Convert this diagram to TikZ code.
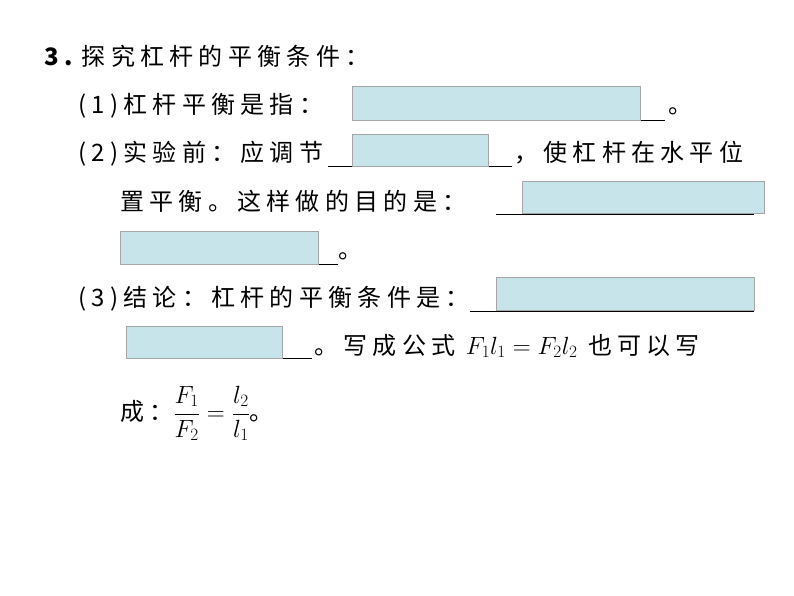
\documentclass[tikz,border=0pt]{standalone}
\usepackage{fontspec}
\setmainfont{Liberation Serif}
\newfontfamily\cjk[LetterSpace=22]{Noto Sans CJK SC}
\definecolor{boxblue}{HTML}{C6E4EA}
\tikzset{
 txt/.style={anchor=base west,inner sep=0pt,font=\cjk\fontsize{24}{28}\selectfont},
 blank/.style={draw=gray!70,fill=boxblue,line width=0.6pt},
 uline/.style={line width=0.6pt}
}
\begin{document}
\begin{tikzpicture}[x=1pt,y=-1pt]
\useasboundingbox[fill=white] (0,0) rectangle (794,596);
\node[txt] (t0) at (44,66) {\textbf{\fontsize{24}{28}\selectfont 3.}\,探究杠杆的平衡条件：};
\node[txt] (t1) at (78,114) {(1)杠杆平衡是指：};
\node[txt] (t1b) at (668,114) {。};
\node[txt] (t2) at (78,162) {(2)实验前：应调节};
\node[txt] (t2b) at (514,162) {，使杠杆在水平位};
\node[txt] (t3) at (120,210) {置平衡。这样做的目的是：};
\node[txt] (t4) at (338,258) {。};
\node[txt] (t5) at (78,306) {(3)结论：杠杆的平衡条件是：};
\node[txt] (t6) at (314,354) {。写成公式 $F_1l_1=F_2l_2$ 也可以写};
\node[txt] (t7) at (120,420) {成：$\displaystyle\frac{F_1}{F_2}=\frac{l_2}{l_1}$。};
% underlines
\draw[uline] (352,120) -- (665,120);
\draw[uline] (328,166) -- (512,166);
\draw[uline] (496,214) -- (754,214);
\draw[uline] (120,264) -- (338,264);
\draw[uline] (470,311) -- (754,311);
\draw[uline] (126,358) -- (312,358);
% blanks
\draw[blank] (352,86) rectangle (640,120);
\draw[blank] (352,134) rectangle (488,166);
\draw[blank] (522,181) rectangle (764,213);
\draw[blank] (120,231) rectangle (318,264);
\draw[blank] (496,277) rectangle (754,310);
\draw[blank] (126,326) rectangle (282,358);
\end{tikzpicture}
\end{document}
